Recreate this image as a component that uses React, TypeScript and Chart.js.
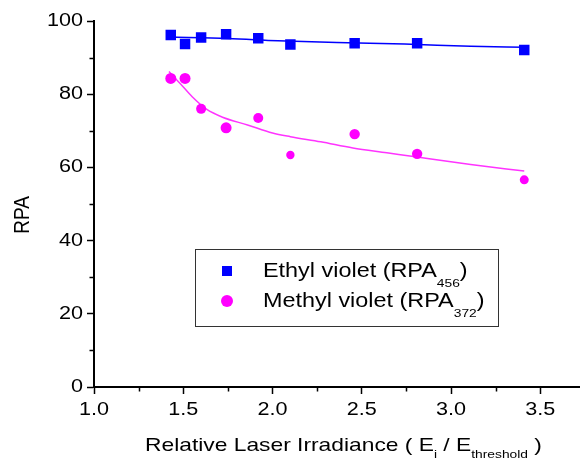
import React, { useEffect, useRef } from "react";
import { Chart, registerables } from "chart.js";

Chart.register(...registerables);

// Relative laser irradiance (E_i / E_threshold) at which each sample was measured
const irradiance = [1.43, 1.51, 1.6, 1.74, 1.92, 2.1, 2.46, 2.81, 3.41];
// RPA values for each dye
const ethylRPA = [96.2, 93.7, 95.5, 96.4, 95.3, 93.6, 93.9, 93.9, 92.1];
const methylRPA = [84.3, 84.3, 76.0, 70.8, 73.5, 63.4, 69.1, 63.7, 56.6];

// Fitted trend curves
const ethylFitX = [1.42, 1.75, 2.03, 2.36, 2.74, 3.11, 3.41];
const ethylFitY = [95.6, 95.2, 94.6, 94.1, 93.7, 93.1, 92.8];
const methylFitX = [1.42, 1.485, 1.55, 1.63, 1.72, 1.86, 2.0, 2.1, 2.27, 2.45, 2.64, 2.8, 3.11, 3.41];
const methylFitY = [86.2, 82.8, 79.3, 75.9, 73.7, 71.6, 69.4, 68.4, 67.0, 65.3, 64.0, 62.9, 60.8, 59.0];

// Axis ticks
const xTicks = [1.0, 1.5, 2.0, 2.5, 3.0, 3.5];
const xMinorTicks = [1.25, 1.75, 2.25, 2.75, 3.25];
const yTicks = [0, 20, 40, 60, 80, 100];
const yMinorTicks = [10, 30, 50, 70, 90];

// Labels (main text, subscript, trailing text)
const ethylLabel = ["Ethyl violet (RPA", "456", ")"];
const methylLabel = ["Methyl violet (RPA", "372", ")"];
const xTitleParts = ["Relative Laser Irradiance ( E", "i", " / E", "threshold", " )"];
const yTitle = "RPA";

const FONT = '"Liberation Sans", Arial, Helvetica, sans-serif';
const SX = 1.2; // horizontal text stretch

type Seg = { text: string; sub?: boolean };

function drawRich(
  ctx: CanvasRenderingContext2D,
  segs: Seg[],
  x: number,
  y: number,
  size: number,
  subSize: number,
  subDy: number
) {
  ctx.save();
  ctx.translate(x, y);
  ctx.scale(SX, 1);
  ctx.textAlign = "left";
  ctx.textBaseline = "alphabetic";
  ctx.fillStyle = "#000";
  let cx = 0;
  for (const s of segs) {
    ctx.font = `${s.sub ? subSize : size}px ${FONT}`;
    ctx.fillText(s.text, cx, s.sub ? subDy : 0);
    cx += ctx.measureText(s.text).width;
  }
  ctx.restore();
}

function labelSegs(parts: string[]): Seg[] {
  return parts.map((t, i) => ({ text: t, sub: i % 2 === 1 }));
}

const decorPlugin = {
  id: "decor",
  afterDraw(chart: any) {
    const ctx: CanvasRenderingContext2D = chart.ctx;
    const xs = chart.scales.x;
    const ys = chart.scales.y;
    const area = chart.chartArea;

    // minor ticks
    ctx.save();
    ctx.strokeStyle = "#000";
    ctx.lineWidth = 1.5;
    ctx.beginPath();
    for (const v of xMinorTicks) {
      const px = Math.round(xs.getPixelForValue(v)) + 0.5;
      ctx.moveTo(px, area.bottom);
      ctx.lineTo(px, area.bottom + 4.5);
    }
    for (const v of yMinorTicks) {
      const py = Math.round(ys.getPixelForValue(v)) + 0.5;
      ctx.moveTo(area.left, py);
      ctx.lineTo(area.left - 4.5, py);
    }
    ctx.stroke();
    ctx.restore();

    // tick labels
    ctx.save();
    ctx.fillStyle = "#000";
    ctx.font = `18px ${FONT}`;
    ctx.textBaseline = "middle";
    for (const v of yTicks) {
      const py = ys.getPixelForValue(v);
      ctx.save();
      ctx.translate(83, py);
      ctx.scale(SX, 1);
      ctx.textAlign = "right";
      ctx.fillText(String(v), 0, 0);
      ctx.restore();
    }
    for (const v of xTicks) {
      const px = xs.getPixelForValue(v);
      ctx.save();
      ctx.translate(px, 410);
      ctx.scale(SX, 1);
      ctx.textAlign = "center";
      ctx.fillText(v.toFixed(1), 0, 0);
      ctx.restore();
    }
    ctx.restore();

    // y title
    ctx.save();
    ctx.translate(23, 215);
    ctx.scale(SX, 1);
    ctx.rotate(-Math.PI / 2);
    ctx.fillStyle = "#000";
    ctx.font = `19px ${FONT}`;
    ctx.textAlign = "center";
    ctx.textBaseline = "middle";
    ctx.fillText(yTitle, 0, 0);
    ctx.restore();

    // x title
    drawRich(ctx, labelSegs(xTitleParts), 145, 451, 19, 11.5, 7);

    // legend
    ctx.save();
    ctx.strokeStyle = "#333";
    ctx.lineWidth = 1;
    ctx.strokeRect(195.5, 249.5, 303, 77);
    ctx.fillStyle = "#0000ff";
    ctx.fillRect(222, 266, 10, 10);
    ctx.fillStyle = "#ff00ff";
    ctx.beginPath();
    ctx.arc(227, 301, 6, 0, Math.PI * 2);
    ctx.fill();
    ctx.restore();
    drawRich(ctx, labelSegs(ethylLabel), 263, 277, 19.5, 11.5, 10);
    drawRich(ctx, labelSegs(methylLabel), 263, 307, 19.5, 11.5, 10);
  },
};

export default function App() {
  const canvasRef = useRef<HTMLCanvasElement | null>(null);

  useEffect(() => {
    const canvas = canvasRef.current;
    if (!canvas) return;
    const toPts = (xs: number[], ys: number[]) => xs.map((x, i) => ({ x, y: ys[i] }));

    const chart = new Chart(canvas, {
      type: "scatter",
      data: {
        datasets: [
          {
            label: ethylLabel.join(""),
            data: toPts(irradiance, ethylRPA),
            pointStyle: "rect",
            pointRadius: 7.4,
            backgroundColor: "#0000ff",
            borderColor: "#0000ff",
            borderWidth: 0,
            showLine: false,
            order: 0,
          },
          {
            label: methylLabel.join(""),
            data: toPts(irradiance, methylRPA),
            pointStyle: "circle",
            pointRadius: [5.5, 5.5, 5, 5.5, 5, 4.2, 5.2, 5.2, 4.5],
            backgroundColor: "#ff00ff",
            borderColor: "#ff00ff",
            borderWidth: 0,
            showLine: false,
            order: 0,
          },
          {
            label: "ethyl fit",
            data: toPts(ethylFitX, ethylFitY),
            showLine: true,
            pointRadius: 0,
            borderColor: "#0000ff",
            borderWidth: 1.5,
            cubicInterpolationMode: "monotone",
            order: 1,
          },
          {
            label: "methyl fit",
            data: toPts(methylFitX, methylFitY),
            showLine: true,
            pointRadius: 0,
            borderColor: "#ff33ff",
            borderWidth: 1.5,
            cubicInterpolationMode: "monotone",
            order: 1,
          },
        ],
      },
      options: {
        animation: false,
        responsive: false,
        layout: { padding: { top: 21, left: 0, right: 0, bottom: 0 } },
        plugins: {
          legend: { display: false },
          tooltip: { enabled: false },
        },
        scales: {
          x: {
            type: "linear",
            min: 1.0,
            max: 3.72,
            afterBuildTicks: (axis: any) => {
              axis.ticks = xTicks.map((value) => ({ value }));
            },
            afterFit: (axis: any) => {
              axis.height = 74;
            },
            ticks: { display: false },
            grid: {
              drawOnChartArea: false,
              drawTicks: true,
              tickLength: 7,
              tickColor: "#000",
              tickWidth: 1.5,
            },
            border: { display: true, color: "#000", width: 2 },
          },
          y: {
            type: "linear",
            min: 0,
            max: 100,
            afterBuildTicks: (axis: any) => {
              axis.ticks = yTicks.map((value) => ({ value }));
            },
            afterFit: (axis: any) => {
              axis.width = 94;
            },
            ticks: { display: false },
            grid: {
              drawOnChartArea: false,
              drawTicks: true,
              tickLength: 7,
              tickColor: "#000",
              tickWidth: 1.5,
            },
            border: { display: true, color: "#000", width: 2 },
          },
        },
      },
      plugins: [decorPlugin],
    });

    return () => chart.destroy();
  }, []);

  return (
    <div style={{ position: "absolute", left: 0, top: 0, width: 587, height: 461, background: "#fff" }}>
      <canvas ref={canvasRef} width={587} height={461} style={{ display: "block" }} />
    </div>
  );
}
